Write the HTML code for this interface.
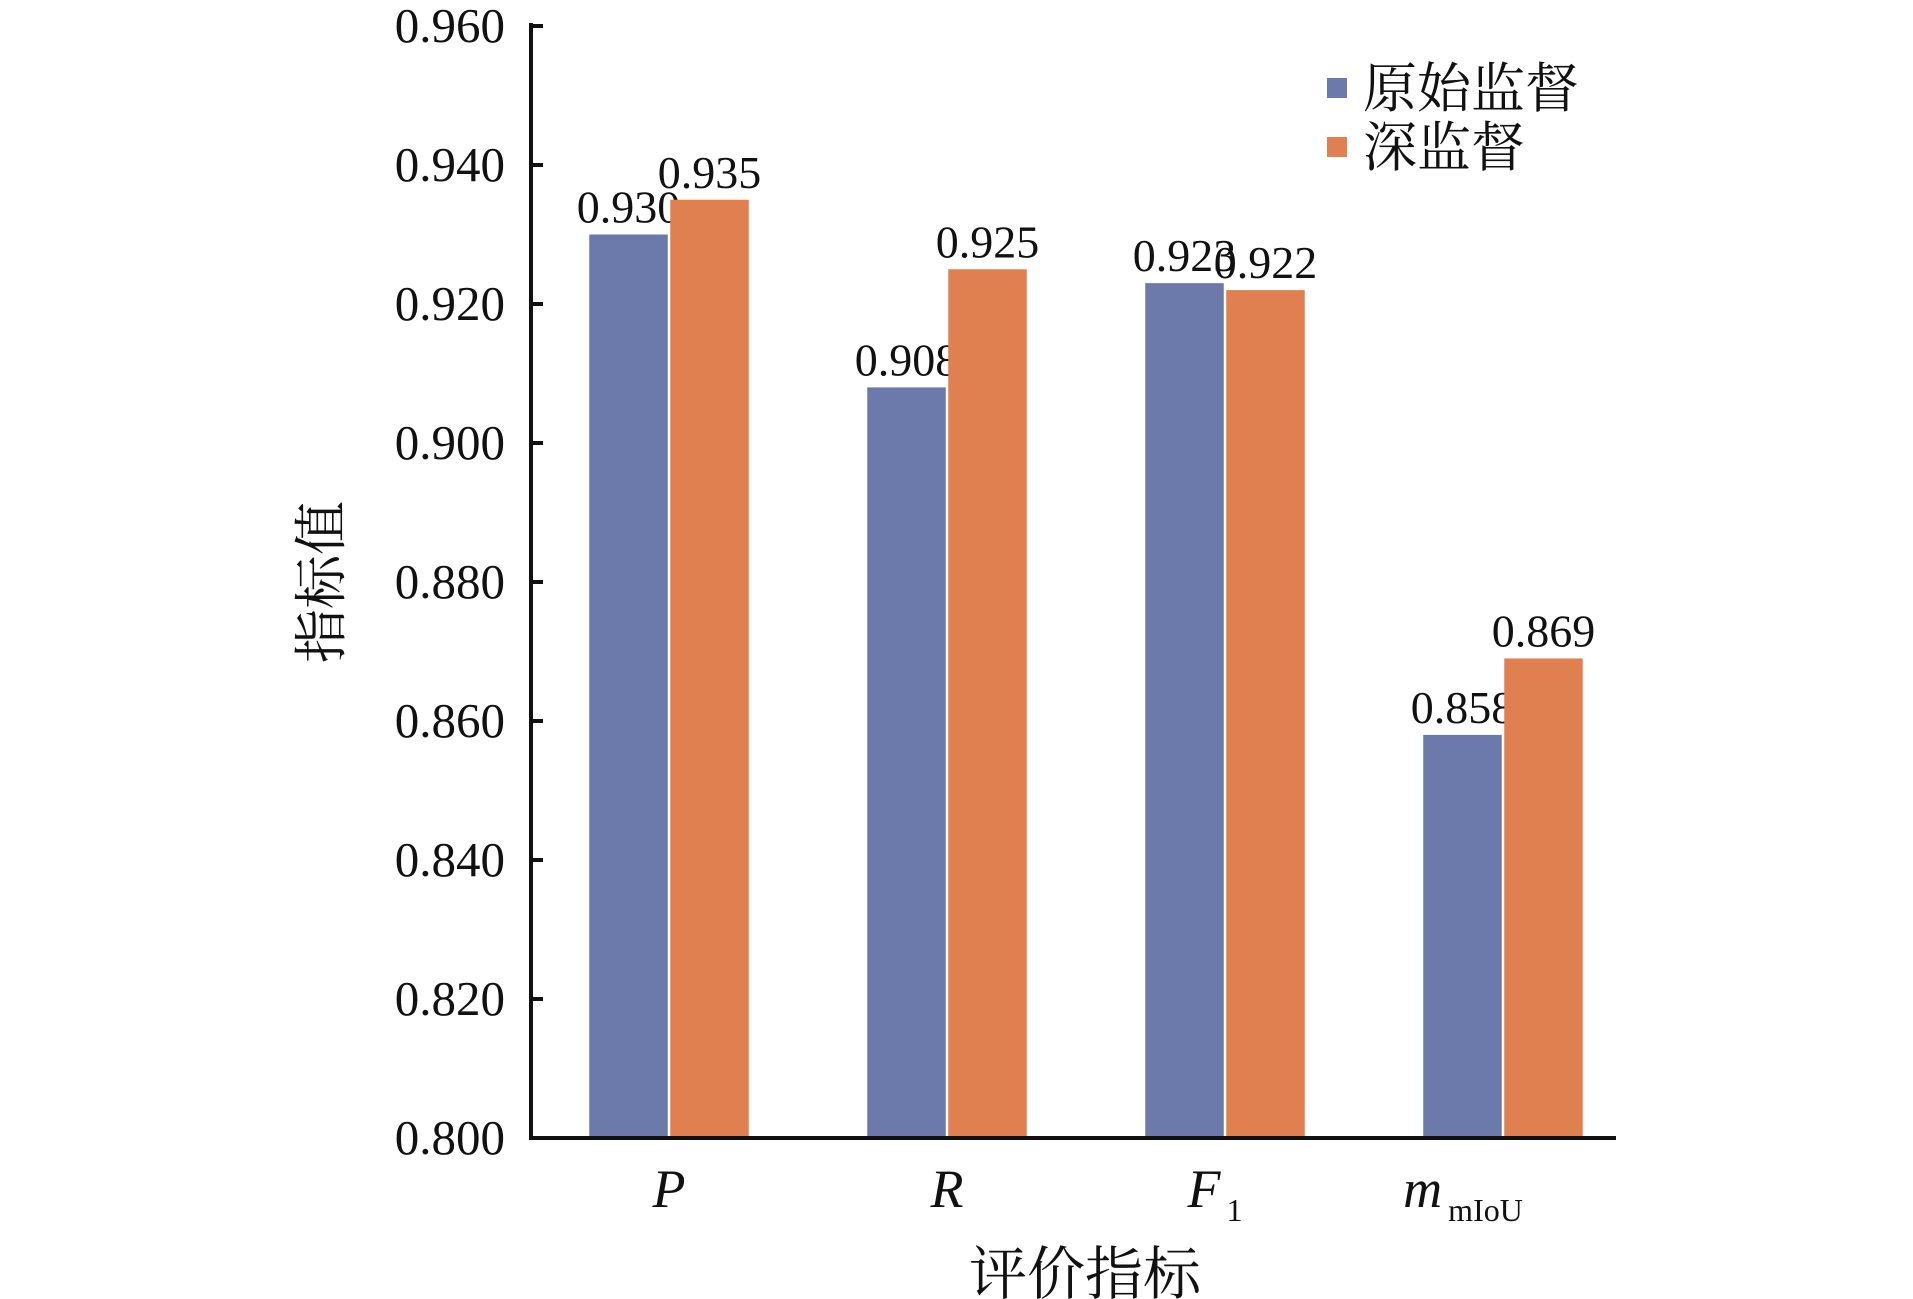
<!DOCTYPE html>
<html><head><meta charset="utf-8"><style>
html,body{margin:0;padding:0;background:#fff;}
svg{display:block;font-family:"Liberation Serif","Noto Serif CJK SC",serif;}
</style></head><body>
<svg id="chart" width="1913" height="1299" viewBox="0 0 1913 1299" xmlns="http://www.w3.org/2000/svg"></svg>
<script>
const categories = ["P","R","F","m"];
const series1 = [0.930, 0.908, 0.923, 0.858];
const series2 = [0.935, 0.925, 0.922, 0.869];
const seriesNames = ["原始监督","深监督"];
const yTicks = [0.800,0.820,0.840,0.860,0.880,0.900,0.920,0.940,0.960];

const NS="http://www.w3.org/2000/svg";
const svg=document.getElementById('chart');
const x0=531, x1=1616, yB=1138, yT=26, vMin=0.8, vMax=0.96;
const y=v=>yB-(v-vMin)/(vMax-vMin)*(yB-yT);
const groupX=i=>669+i*278;
const bw=78.5, gap=2.5;
const colors=["#6b79ab","#e08050"];
function mk(tag,attrs,parent){const e=document.createElementNS(NS,tag);for(const k in attrs)e.setAttribute(k,attrs[k]);(parent||svg).appendChild(e);return e;}

// bars
[series1,series2].forEach((s,si)=>{
  s.forEach((v,i)=>{
    const cx=groupX(i);
    const bx= si===0 ? cx-gap/2-bw : cx+gap/2;
    const r=mk('rect',{x:bx,y:y(v),width:bw,height:yB-y(v),fill:colors[si]});
    
    
    const t=mk('text',{x:bx+bw/2,y:y(v)-12,'font-size':46,'text-anchor':'middle',fill:'#111'});
    t.textContent=v.toFixed(3);
    
    
  });
});

// axes
const ax=mk('path',{d:`M${x0} ${yT-3} V${yB} H${x1}`,stroke:'#111','stroke-width':4,fill:'none'});


yTicks.forEach(v=>{
  const tk=mk('line',{x1:x0,x2:x0+12,y1:y(v),y2:y(v),stroke:'#111','stroke-width':4});
  
  
  const t=mk('text',{x:x0-26,y:y(v)+16,'font-size':49,'text-anchor':'end',fill:'#111'});
  t.textContent=v.toFixed(3);
  
  
});

// x labels
const xl=[["P",""],["R",""],["F","1"],["m","mIoU"]];
xl.forEach((l,i)=>{
  const t=mk('text',{x:groupX(i)-(l[1]?(l[1].length>1?40:10):0),y:1207,'font-size':54,'text-anchor':'middle',fill:'#111','font-style':'italic'});
  t.textContent=l[0];
  
  
  if(l[1]){
    const s=mk('tspan',{'font-size':32,'font-style':'normal',dx:6,dy:14},t);
    s.textContent=l[1];
  }
});

// axis titles
const yt=mk('text',{x:0,y:0,'font-size':54,'text-anchor':'middle',fill:'#111',transform:'translate(340,582) rotate(-90)'});
yt.textContent="指标值";


const xt=mk('text',{x:1085,y:1294,'font-size':58,'text-anchor':'middle',fill:'#111'});
xt.textContent="评价指标";



// legend
seriesNames.forEach((n,i)=>{
  const g=mk('g',{});
  
  
  mk('rect',{x:1327,y:78+i*59,width:20,height:20,fill:colors[i]},g);
  const t=mk('text',{x:1363,y:107+i*59,'font-size':54,fill:'#111'},g);
  t.textContent=n;
});
</script>
</body></html>
